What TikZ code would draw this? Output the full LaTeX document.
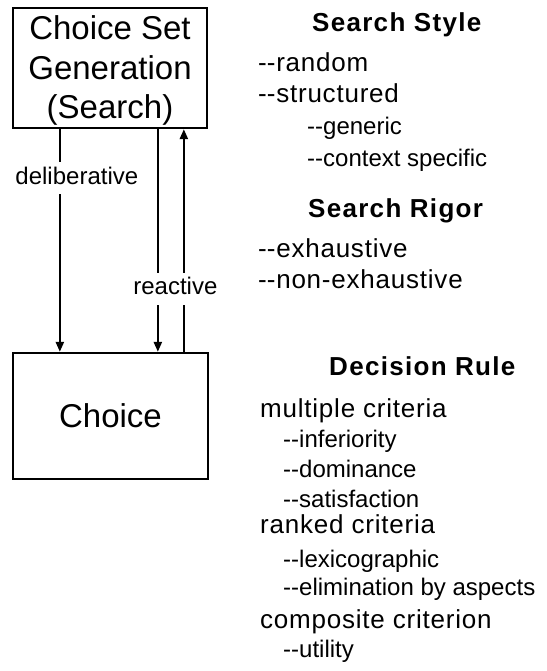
\documentclass[tikz,border=0pt]{standalone}
\usepackage{fontspec}
\setmainfont{Liberation Sans}
\usetikzlibrary{arrows.meta}
\newcommand{\dd}{-\kern0pt-}
\tikzset{
    box/.style={rectangle, draw, line width=2.3pt, align=center,
                font=\fontsize{33}{39.5}\selectfont},
    arr/.style={-{Triangle[width=8pt,length=10pt]}, line width=2.3pt},
    lbl/.style={fill=white, font=\fontsize{24}{28}\selectfont,
                text height=17pt, text depth=5pt, inner ysep=5pt, inner xsep=1pt},
    hd/.style={anchor=base west, inner sep=0pt,
               font=\fontsize{26}{30}\selectfont\bfseries\addfontfeature{LetterSpace=5}},
    itm/.style={anchor=base west, inner sep=0pt,
                font=\fontsize{26}{30}\selectfont\addfontfeature{LetterSpace=3}},
    sub/.style={anchor=base west, inner sep=0pt, font=\fontsize{24}{28}\selectfont},
}
\begin{document}
\begin{tikzpicture}[x=1pt, y=-1pt]
    \useasboundingbox (0,0) rectangle (546,671);

    % the two stages
    \node[box, minimum width=194pt, minimum height=120pt, text depth=1pt] (gen) at (110,68)
        {Choice Set\\Generation\\(Search)};
    \node[box, minimum width=195pt, minimum height=126pt] (ch) at (110.5,416) {Choice};

    % connectors
    \draw[arr] ([xshift=48pt]gen.south west) -- ([xshift=48pt]gen.south west |- ch.north)
        node[lbl, pos=0.22, xshift=17pt] {deliberative};
    \draw[arr] ([xshift=172pt]gen.south west |- ch.north) -- ([xshift=172pt]gen.south west);
    \draw[arr] ([xshift=146pt]gen.south west) -- ([xshift=146pt]gen.south west |- ch.north)
        node[lbl, pos=0.716, xshift=17.5pt] {reactive};

    % search style
    \node[hd]  (sstyle) at (312,32)  {Search Style};
    \node[itm] (rand)   at (258,72)  {\dd random};
    \node[itm] (struc)  at (258,103) {\dd structured};
    \node[sub] (gener)  at (307,135) {\dd generic};
    \node[sub] (ctx)    at (307,167) {\dd context specific};

    % search rigor
    \node[hd]  (srig)   at (308,217) {Search Rigor};
    \node[itm] (exh)    at (258,257) {\dd exhaustive};
    \node[itm] (nonexh) at (258,288) {\dd non-exhaustive};

    % decision rule
    \node[hd]  (drule)  at (329,375) {Decision Rule};
    \node[itm] (multi)  at (260,417) {multiple criteria};
    \node[sub] (infer)  at (283,447) {\dd inferiority};
    \node[sub] (domin)  at (283,477) {\dd dominance};
    \node[sub] (satis)  at (283,507) {\dd satisfaction};
    \node[itm] (ranked) at (260,533) {ranked criteria};
    \node[sub] (lexi)   at (283,567) {\dd lexicographic};
    \node[sub] (elim)   at (283,595) {\dd elimination by aspects};
    \node[itm] (comp)   at (260,628) {composite criterion};
    \node[sub] (util)   at (283,657) {\dd utility};
\end{tikzpicture}
\end{document}
